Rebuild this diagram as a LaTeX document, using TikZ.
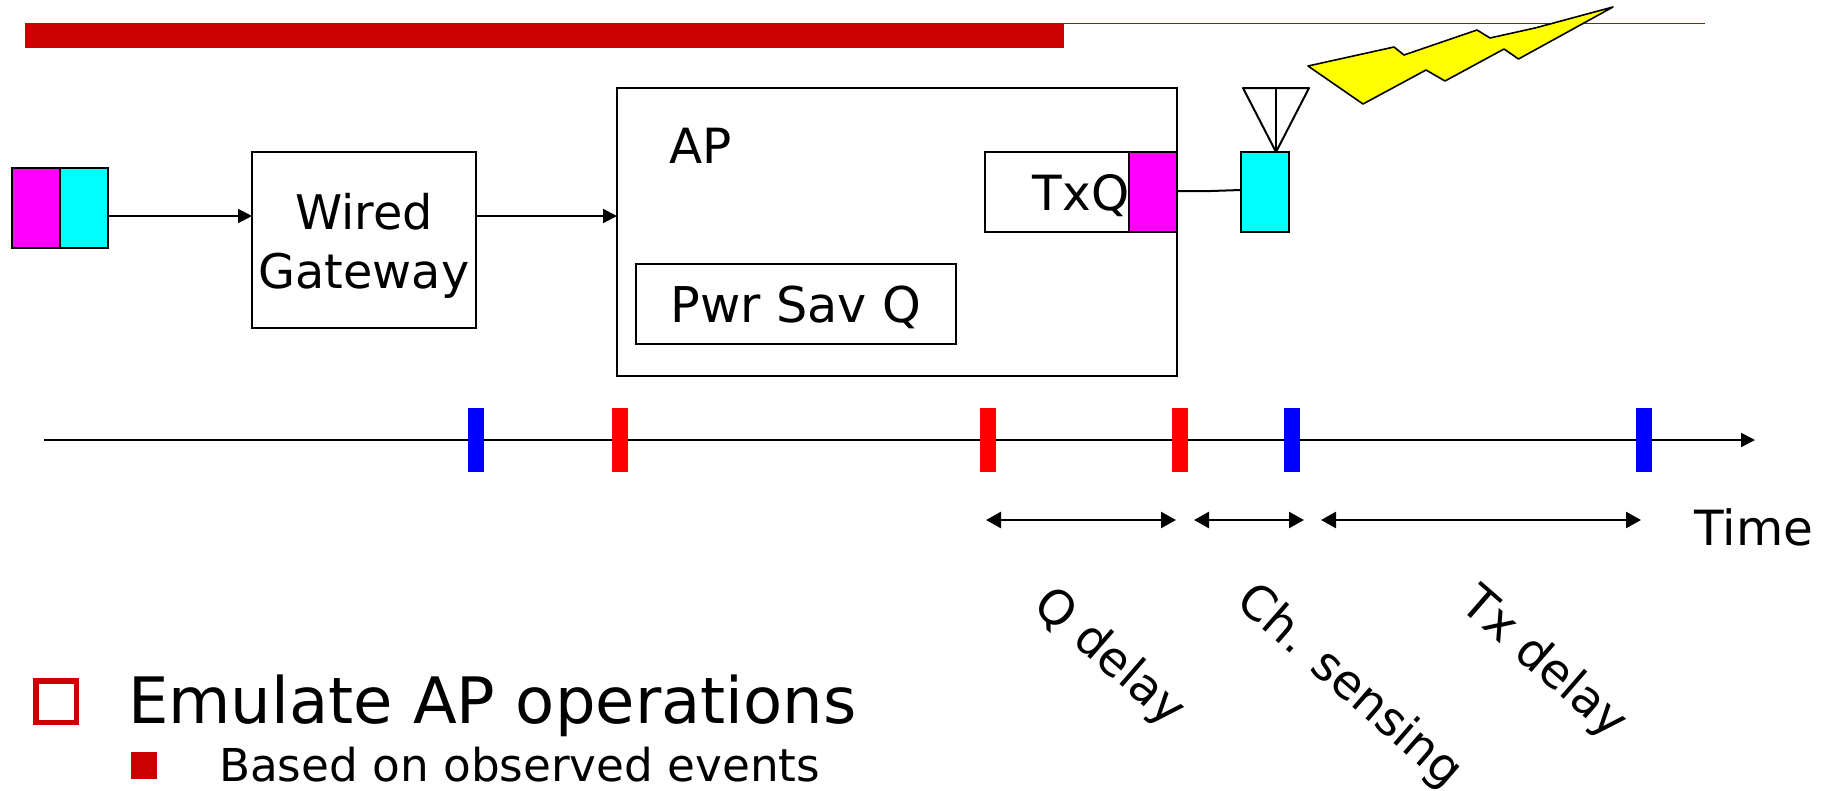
\documentclass[tikz,border=0pt]{standalone}
\usepackage{fontspec}
\setmainfont{DejaVu Sans}
\usetikzlibrary{arrows.meta}
\definecolor{barred}{HTML}{CC0000}
\definecolor{pmag}{RGB}{255,0,255}
\definecolor{pcyan}{RGB}{0,255,255}
\definecolor{pyel}{RGB}{255,255,0}
\definecolor{tred}{RGB}{255,0,0}
\definecolor{tblue}{RGB}{0,0,255}
\tikzset{
  x=1pt,y=-1pt,
  box/.style={draw=black,line width=1.8pt,fill=white,inner sep=0pt,outer sep=0pt},
  magbox/.style={box,fill=pmag},
  cyanbox/.style={box,fill=pcyan},
  label/.style={inner sep=0pt,outer sep=0pt,align=center,font=\fontsize{48.5}{59}\selectfont},
  slanted/.style={label,rotate=-41,font=\fontsize{47.5}{59}\selectfont},
  bigtext/.style={inner sep=0pt,outer sep=0pt,anchor=base west,font=\fontsize{64}{72}\selectfont},
  smalltext/.style={inner sep=0pt,outer sep=0pt,anchor=base west,font=\fontsize{45.3}{50}\selectfont},
  tick/.style={inner sep=0pt,outer sep=0pt,minimum width=16pt,minimum height=64pt},
  conn/.style={draw=black,line width=2pt},
  arr/.style={conn,-{Triangle[length=14pt,width=14pt]}},
  dbl/.style={conn,line width=2.6pt,{Triangle[length=15pt,width=16pt]}-{Triangle[length=15pt,width=16pt]}}
}
\newcommand{\rectnode}[6]{\node[#1,minimum width=#4-#3,minimum height=#6-#5] (#2) at ({(#3+#4)/2},{(#5+#6)/2}) {};}
\begin{document}
\begin{tikzpicture}
\useasboundingbox (0,0) rectangle (1830,790);
% title rule
\fill[barred] (25,23) rectangle (1064,48);
\draw[barred,line width=1.6pt] (1064,23.5) -- (1705,23.5);
% bolt
\draw[fill=pyel,draw=black,line width=1.6pt,line join=round]
 (1308,66) -- (1394,47) -- (1404,55) -- (1477,30) -- (1490,38) -- (1535,28) -- (1613,7)
 -- (1518.5,59) -- (1504,49) -- (1445,81) -- (1426,70) -- (1363,104) -- cycle;
% boxes
\rectnode{box}{ap}{617}{1177}{88}{376}
\rectnode{box}{txq}{985}{1129}{152}{232}
\rectnode{magbox}{txm}{1129}{1177}{152}{232}
\rectnode{box}{psq}{636}{956}{264}{344}
\rectnode{box}{gw}{252}{476}{152}{328}
\rectnode{magbox}{pm}{12}{60}{168}{248}
\rectnode{cyanbox}{pc}{60}{108}{168}{248}
\rectnode{cyanbox}{ant}{1241}{1289}{152}{232}
% antenna
\coordinate (antl) at (1243,88);
\coordinate (antr) at (1309,88);
\coordinate (antm) at (1276,88);
\coordinate (apex) at (1276,152);
\draw[conn,line join=round] (apex) -- (antl) -- (antr) -- cycle;
\draw[conn] (antm) -- (apex);
% feeds
\coordinate (feedmid) at (1211,191);
\draw[conn] (txm.east |- 0,191) -- (feedmid) -- (ant.west |- 0,190);
\draw[arr] (pc.east |- 0,216) -- (gw.west |- 0,216);
\draw[arr] (gw.east |- 0,216) -- (ap.west |- 0,216);
% timeline
\coordinate (tstart) at (44,440);
\coordinate (tend) at (1755,440);
\draw[arr] (tstart) -- (tend);
\node[tick,fill=tblue] (t1) at (475.5,439.5) {};
\node[tick,fill=tred] (t2) at (620,439.5) {};
\node[tick,fill=tred] (t3) at (988,439.5) {};
\node[tick,fill=tred] (t4) at (1180,439.5) {};
\node[tick,fill=tblue] (t5) at (1292,439.5) {};
\node[tick,fill=tblue] (t6) at (1644,439.5) {};
% spans
\coordinate (a1) at (986,520); \coordinate (a2) at (1176,520);
\coordinate (b1) at (1194,520); \coordinate (b2) at (1304,520);
\coordinate (c1) at (1321,520); \coordinate (c2) at (1641,520);
\draw[dbl] (a1) -- (a2);
\draw[dbl] (b1) -- (b2);
\draw[dbl] (c1) -- (c2);
% texts
\node[label,font=\fontsize{47.7}{59}\selectfont] (gwt) at (364,246) {Wired\\Gateway};
\node[label] (apt) at (700.5,146) {AP};
\node[label] (txt) at (1081,196) {TxQ};
\node[label,font=\fontsize{49.3}{59}\selectfont] (pst) at (796,307) {Pwr Sav Q};
\node[label] (time) at (1754,527) {Time};
\node[slanted] (qd) at (1109,658) {Q delay};
\node[slanted] (cs) at (1349,687) {Ch. sensing};
\node[slanted] (td) at (1543,664) {Tx delay};
% bullets
\node[draw=barred,line width=5.5pt,inner sep=0pt,minimum width=40.5pt,minimum height=41.5pt] (b1sq) at (56,701.5) {};
\node[fill=barred,inner sep=0pt,minimum width=26pt,minimum height=27pt] (b2sq) at (144,765.5) {};
\node[bigtext] (em) at (128,723) {Emulate AP operations};
\node[smalltext] (ob) at (219,781) {Based on observed events};
\end{tikzpicture}
\end{document}
